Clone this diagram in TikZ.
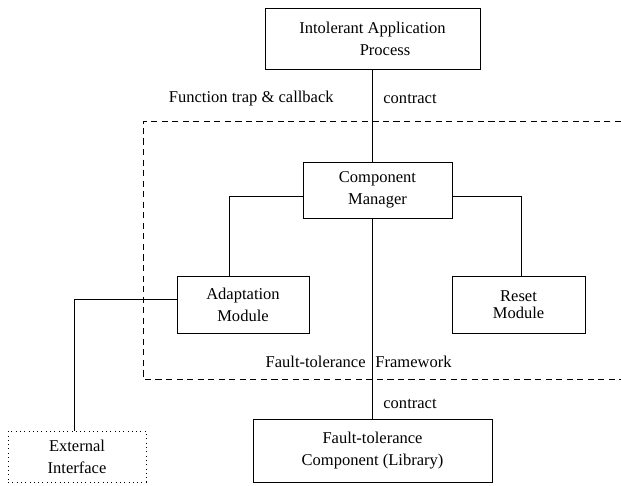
\documentclass[tikz,border=0pt]{standalone}
\usepackage{fontspec}
\setmainfont{Liberation Serif}
\usetikzlibrary{positioning}

\begin{document}
\begin{tikzpicture}[x=0.02cm,y=-0.02cm,line width=0.45pt,
        font=\fontsize{9.4}{12.5}\selectfont,
        box/.style={draw,rectangle,align=center,inner sep=0pt},
        lbl/.style={inner sep=0pt}]

    \useasboundingbox (0,0) rectangle (621,485);

    \node[box,minimum width=4.3cm,minimum height=1.22cm] (app) at (372.5,38.5) {Intolerant Application\\\hspace*{0.5cm}Process};
    \node[box,minimum width=2.98cm,minimum height=1.12cm] (cm) at (377.5,190) {Component\\Manager};
    \node[box,minimum width=2.64cm,minimum height=1.14cm] (adapt) at (243,304.5) {Adaptation\\Module};
    \node[box,minimum width=2.66cm,minimum height=1.14cm,
          font=\fontsize{9.4}{10}\selectfont] (reset) at (518.5,304.5) {Reset\\Module};
    \node[box,minimum width=4.78cm,minimum height=1.26cm] (ftc) at (372.5,450.5) {Fault-tolerance\\Component (Library)};
    \node[box,dotted,minimum width=2.76cm,minimum height=1.02cm] (ext) at (77,456.5) {External\\Interface};

    % framework boundary
    \draw[dash pattern=on 3.5pt off 2.5pt] (621,121) -- (143,121) -- (143,379) -- (621,379);

    \node[lbl,anchor=east] (trap) at (334,99) {Function trap \& callback};
    \node[lbl,anchor=west] (c1) at (383,99) {contract};
    \node[lbl,anchor=west] (c2) at (383,404) {contract};
    \node[lbl,anchor=east] (ft) at (366,362) {Fault-tolerance};
    \node[lbl,anchor=west] (fw) at (375,362) {Framework};

    \draw (app.south) -- (app.south |- cm.north);
    \draw (ftc.north |- cm.south) -- (ftc.north);
    \draw ([yshift=-0.12cm]cm.west) -| ([xshift=-0.28cm]adapt.north);
    \draw ([yshift=-0.12cm]cm.east) -| ([xshift=0.05cm]reset.north);
    \draw ([yshift=0.11cm]adapt.west) -| ([xshift=-0.06cm]ext.north);

\end{tikzpicture}
\end{document}
